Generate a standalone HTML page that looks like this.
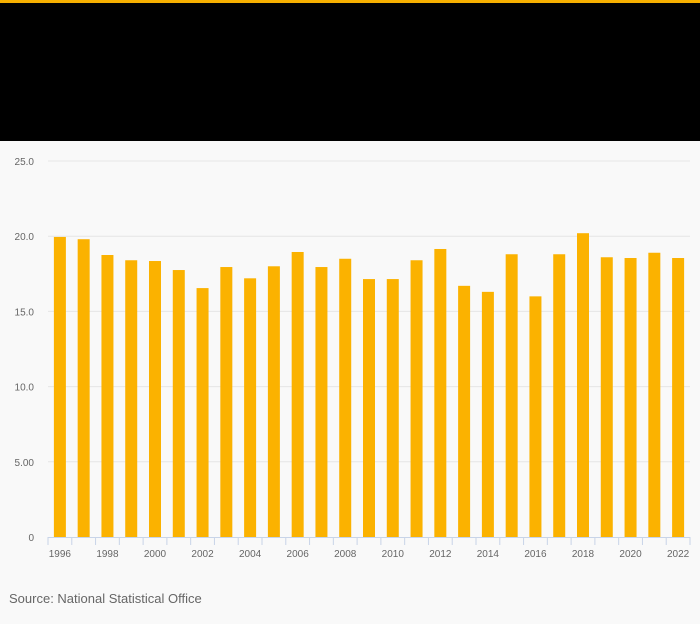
<!DOCTYPE html>
<html><head><meta charset="utf-8"><style>
body{margin:0;width:700px;height:624px;background:#f9f9f9;font-family:"Liberation Sans",sans-serif;overflow:hidden}
#top{position:absolute;left:0;top:0;width:700px;height:3px;background:#f7b000}
#hdr{position:absolute;left:0;top:3px;width:700px;height:138px;background:#000}
#src{position:absolute;left:9px;top:591px;font-size:13px;color:#666}
svg{position:absolute;left:0;top:0}
</style></head><body>
<div id="top"></div>
<div id="hdr"></div>
<svg width="700" height="624"></svg>
<div id="src">Source: National Statistical Office</div>
<script>
const years=[1996,1997,1998,1999,2000,2001,2002,2003,2004,2005,2006,2007,2008,2009,2010,2011,2012,2013,2014,2015,2016,2017,2018,2019,2020,2021,2022];
const values=[19.95,19.8,18.75,18.4,18.35,17.75,16.55,17.95,17.2,18.0,18.95,17.95,18.5,17.15,17.15,18.4,19.15,16.7,16.3,18.8,16.0,18.8,20.2,18.6,18.55,18.9,18.55];
const yTicks=[0,5,10,15,20,25];
const yTickLabels=["0","5.00","10.0","15.0","20.0","25.0"];
const svg=document.querySelector('svg');const NS='http://www.w3.org/2000/svg';
const X0=48,X1=690,Y0=537,Y1=161,YMAX=25;
const band=(X1-X0)/years.length;
const y=v=>Y0-(v/YMAX)*(Y0-Y1);
const x=i=>X0+band*i;
function mk(t,a){const e=document.createElementNS(NS,t);for(const k in a)e.setAttribute(k,a[k]);svg.appendChild(e);return e;}
yTicks.forEach((t,i)=>{
 if(t>0){const g=mk('line',{x1:X0,x2:X1,y1:y(t),y2:y(t),stroke:'#e6e6e6','stroke-width':1});
 
 }
 const l=mk('text',{x:34,y:y(t)+4,'text-anchor':'end','font-size':10,fill:'#666','font-family':'Liberation Sans, sans-serif'});
 l.textContent=yTickLabels[i];
 
 
});
values.forEach((v,i)=>{
 const r=mk('rect',{x:x(i)+band/2-6,y:y(v),width:12,height:Y0-y(v),fill:'#fbb200'});
 
 
});
const ax=mk('line',{x1:X0,x2:X1,y1:Y0+0.5,y2:Y0+0.5,stroke:'#c8d4e8','stroke-width':1});


for(let i=0;i<=years.length;i++){
 const t=mk('line',{x1:x(i),x2:x(i),y1:Y0,y2:Y0+8,stroke:'#c8d4e8','stroke-width':1});
 
 
}
years.forEach((yr,i)=>{
 if(i%2)return;
 const l=mk('text',{x:x(i)+band/2,y:557,'text-anchor':'middle','font-size':10,fill:'#666','font-family':'Liberation Sans, sans-serif'});
 l.textContent=yr;
 
 
});
</script>
</body></html>
